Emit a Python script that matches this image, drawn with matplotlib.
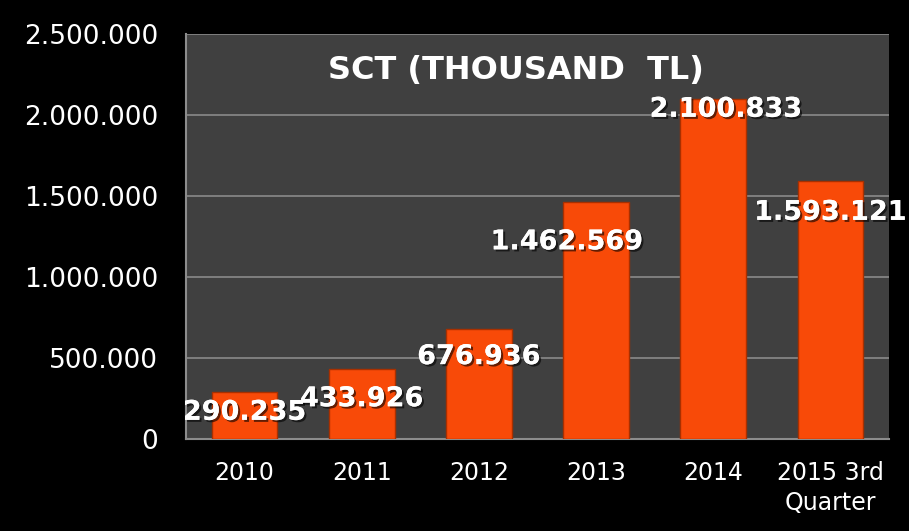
import matplotlib.pyplot as plt
import matplotlib.patheffects as pe

years = ['2010', '2011', '2012', '2013', '2014', '2015 3rd\nQuarter']
values = [290235, 433926, 676936, 1462569, 2100833, 1593121]
labels = ['290.235', '433.926', '676.936', '1.462.569', '2.100.833', '1.593.121']
yticks = [0, 500000, 1000000, 1500000, 2000000, 2500000]
ytick_labels = ['0', '500.000', '1.000.000', '1.500.000', '2.000.000', '2.500.000']

# label offsets in points (dx, dy) as seen on the original
label_off = [(0, -15), (0, -22), (0, -20), (-21, -29), (9, -8), (0, -23)]

plt.rcParams['font.family'] = ['DejaVu Sans']

fig = plt.figure(figsize=(9.09, 5.31), dpi=100, facecolor='black')
ax = fig.add_axes([0.2046, 0.1733, 0.7734, 0.7627])
ax.set_facecolor('#404040')

x = range(len(years))
bars = ax.bar(x, values, width=0.56, color='#F84A08', edgecolor='#A83000',
              linewidth=1.0, zorder=3)

ax.set_ylim(0, 2500000)
ax.set_xlim(-0.5, len(years) - 0.5)
ax.set_yticks(yticks)
ax.set_yticklabels(ytick_labels)
ax.set_xticks(list(x))
ax.set_xticklabels(years, linespacing=1.3)
ax.grid(axis='y', color='#8a8a8a', linewidth=1.2, zorder=0)
ax.tick_params(axis='y', colors='white', labelsize=19, length=0, pad=20)
ax.tick_params(axis='x', colors='white', labelsize=17, length=0, pad=16)
for s in ['top', 'right']:
    ax.spines[s].set_visible(False)
for s in ['left', 'bottom']:
    ax.spines[s].set_color('#8c8c8c')
    ax.spines[s].set_linewidth(1.5)

shadow = [pe.withSimplePatchShadow(offset=(1.5, -1.5), shadow_rgbFace='black', alpha=0.6), pe.Normal()]
for b, lab, (dx, dy) in zip(bars, labels, label_off):
    ax.annotate(lab, (b.get_x() + b.get_width() / 2, b.get_height()),
                xytext=(dx, dy), textcoords='offset points',
                ha='center', va='center', color='white', fontsize=19.5,
                fontweight='bold', zorder=5, path_effects=shadow)

ax.text(0.47, 0.91, 'SCT (THOUSAND  TL)', transform=ax.transAxes, ha='center',
        va='center', color='white', fontsize=23, fontweight='bold')

fig.savefig('out.png', dpi=100, facecolor='black')
